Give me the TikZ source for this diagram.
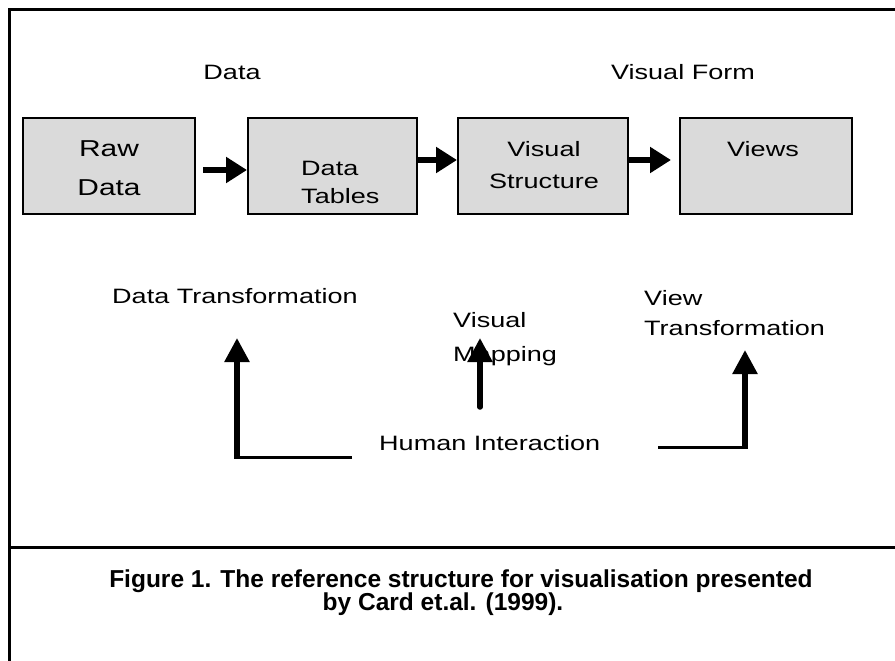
\documentclass[tikz,border=0pt]{standalone}
\usepackage{fontspec}
\setmainfont{Liberation Sans}
\newfontfamily\diagfont[FakeStretch=1.3]{Liberation Sans}
\newfontfamily\capfont{Liberation Sans}
\usetikzlibrary{arrows.meta,calc}
\definecolor{boxgray}{RGB}{218,218,218}

\begin{document}
\begin{tikzpicture}[x=1pt,y=-1pt,
  frame/.style={line width=3pt},
  stage/.style={draw, line width=2pt, fill=boxgray, minimum height=96pt, inner sep=0pt},
  lbl/.style={inner sep=0pt, font=\diagfont\fontsize{20.8}{24}\selectfont},
  biglbl/.style={inner sep=0pt, font=\diagfont\fontsize{23}{27}\selectfont},
  caption/.style={inner sep=0pt, font=\capfont\bfseries\fontsize{24.5}{28}\selectfont},
  flow/.style={line width=6pt, -{Triangle[length=21pt,width=25pt]}},
  lift/.style={line width=5.5pt, -{Triangle[length=24pt,width=24pt]}},
  feed/.style={line width=3pt},
]
\useasboundingbox (0,0) rectangle (895,661);

% outer frame and caption separator
\draw[frame] (9,661) -- (9,10) -- (895,10);
\draw[frame] (9,547) -- (895,547);

% pipeline stages
\node[stage, minimum width=172pt] (raw)    at (109,165.5) {};
\node[stage, minimum width=169pt] (tables) at (332.5,166) {};
\node[stage, minimum width=170pt] (struct) at (543,166) {};
\node[stage, minimum width=172pt] (views)  at (766,166) {};

% stage captions
\node[biglbl, anchor=base] (rawA) at (109,157) {Raw};
\node[biglbl, anchor=base] (rawB) at (109,195) {Data};
\node[lbl, anchor=base west] (tabA) at (301,175) {Data};
\node[lbl, anchor=base west] (tabB) at (301,203) {Tables};
\node[lbl, anchor=base] (strA) at (544,157) {Visual};
\node[lbl, anchor=base] (strB) at (544,188) {Structure};
\node[lbl, anchor=base] (viewA) at (763,157) {Views};

% headings above the pipeline
\node[lbl, anchor=base] (hdata) at (232,80) {Data};
\node[lbl, anchor=base] (hform) at (683,80) {Visual Form};

% transformation labels
\node[lbl, anchor=base west] (dtrans) at (112,303) {Data Transformation};
\node[lbl, anchor=base west] (vmapA) at (453,327) {Visual};
\node[lbl, anchor=base west] (vmapB) at (453,361) {Mapping};
\node[lbl, anchor=base west] (vtrA) at (644,305) {View};
\node[lbl, anchor=base west] (vtrB) at (644,335) {Transformation};
\node[lbl, anchor=base west] (human) at (379,450) {Human Interaction};

% arrows between stages
\draw[flow] ([xshift=7pt,yshift=-4.5pt]raw.east) coordinate (a1) -- (a1 -| tables.west);
\draw[flow] ([yshift=6pt]tables.east) coordinate (a2) -- (a2 -| struct.west);
\draw[flow] ([yshift=6pt]struct.east) -- ([xshift=-8pt,yshift=6pt]views.west);

% interaction feedback
\coordinate (lstart) at (352,457);
\coordinate (lcorner) at (237,457);
\coordinate (ltip) at (237,338);
\draw[feed] (lstart) -- (lcorner);
\draw[lift] ($(lcorner)+(0,1.5)$) -- (ltip);

\coordinate (mstart) at (480,407);
\coordinate (mtip) at (480,338);
\draw[lift, line cap=round] (mstart) -- (mtip);

\coordinate (rstart) at (658,447);
\coordinate (rcorner) at (745,447);
\coordinate (rtip) at (745,350);
\draw[feed] (rstart) -- (rcorner);
\draw[lift] ($(rcorner)+(0,1.5)$) -- (rtip);

% figure caption
\node[caption, anchor=base] (capA) at (461,587) {Figure 1. The reference structure for visualisation presented};
\node[caption, anchor=base] (capB) at (443,610) {by Card et.al. (1999).};
\end{tikzpicture}
\end{document}
